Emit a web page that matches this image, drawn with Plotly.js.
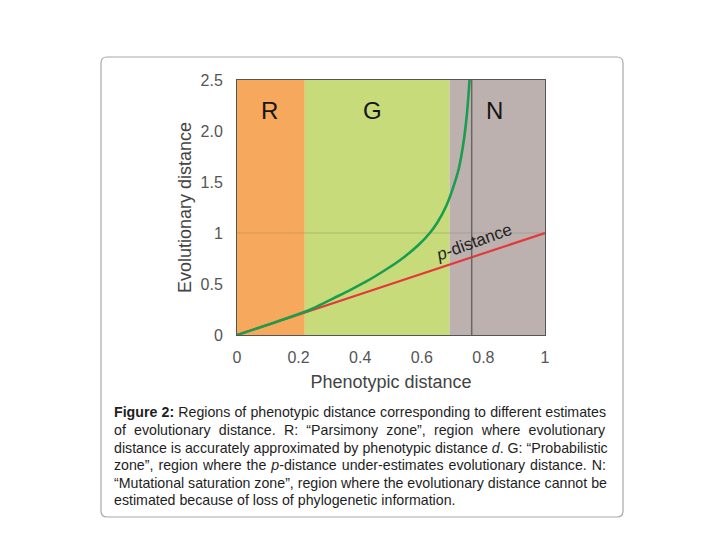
<!DOCTYPE html>
<html>
<head>
<meta charset="utf-8">
<script src="https://cdn.plot.ly/plotly-3.0.1.min.js"></script>
<style>html,body{margin:0;padding:0;background:#fff;}#chart{width:720px;height:540px;}</style>
</head>
<body>
<div id="chart"></div>
<script>
// ---- data ----
const pDistX = [0, 1];
const pDistY = [0, 1];
const evoX = [0, 0.1, 0.2, 0.25, 0.31, 0.37, 0.42, 0.48, 0.53, 0.59, 0.626, 0.65, 0.68, 0.70, 0.72, 0.735, 0.745, 0.751, 0.755];
const evoY = [0, 0.1, 0.205, 0.265, 0.355, 0.445, 0.525, 0.635, 0.735, 0.885, 1.0, 1.10, 1.27, 1.43, 1.63, 1.88, 2.12, 2.33, 2.5];
const zoneNames = ["R", "G", "N"];
const zoneStart = [0, 0.22, 0.69];
const zoneEnd = [0.22, 0.69, 1];
const zoneLabelX = [0.107, 0.44, 0.835];
const saturationX = 0.762;
const xTickVals = [0, 0.2, 0.4, 0.6, 0.8, 1];
const xTickText = ["0", "0.2", "0.4", "0.6", "0.8", "1"];
const yTickVals = [0, 0.5, 1, 1.5, 2, 2.5];
const yTickText = ["0", "0.5", "1", "1.5", "2.0", "2.5"];
const captionLines = [
  "<b>Figure 2:</b> Regions of phenotypic distance corresponding to different estimates",
  "of evolutionary distance. R: “Parsimony zone”, region where evolutionary",
  "distance is accurately approximated by phenotypic distance <i>d</i>. G: “Probabilistic",
  "zone”, region where the <i>p</i>-distance under-estimates evolutionary distance. N:",
  "“Mutational saturation zone”, region where the evolutionary distance cannot be",
  "estimated because of loss of phylogenetic information."
];

// ---- layout helpers (pixel -> paper) ----
const L = 237, R = 545, T = 80, B = 335;
const W = R - L, H = B - T;
const px = X => (X - L) / W;
const py = Y => (B - Y) / H;
const FONT = "Liberation Sans, Arial, sans-serif";

function roundedRect(x0, y0, x1, y1, r) {
  const rx = r / W, ry = r / H;
  const a = px(x0), b = px(x1), top = py(y0), bot = py(y1);
  return `M ${a + rx} ${top} L ${b - rx} ${top} Q ${b} ${top} ${b} ${top - ry} ` +
         `L ${b} ${bot + ry} Q ${b} ${bot} ${b - rx} ${bot} L ${a + rx} ${bot} ` +
         `Q ${a} ${bot} ${a} ${bot + ry} L ${a} ${top - ry} Q ${a} ${top} ${a + rx} ${top} Z`;
}

const zoneColors = ["#F6A85C", "#C8DB7B", "#BDB1AF"];
const shapes = [];
zoneNames.forEach((n, i) => {
  shapes.push({type: "rect", xref: "x", yref: "y", x0: zoneStart[i], x1: zoneEnd[i], y0: 0, y1: 2.5,
    fillcolor: zoneColors[i], line: {width: 0}, layer: "below"});
});
shapes.push({type: "line", xref: "x", yref: "y", x0: 0, x1: 1, y0: 1, y1: 1,
  line: {color: "rgba(140,140,110,0.45)", width: 1}, layer: "below"});
shapes.push({type: "line", xref: "x", yref: "y", x0: saturationX, x1: saturationX, y0: 0, y1: 2.5,
  line: {color: "#6a6464", width: 1.5}});
shapes.push({type: "path", xref: "paper", yref: "paper", path: roundedRect(101, 57, 623, 517, 6),
  line: {color: "#a8a8a8", width: 1.2}, fillcolor: "rgba(0,0,0,0)"});

const annotations = [];
zoneNames.forEach((n, i) => {
  annotations.push({xref: "x", yref: "y", x: zoneLabelX[i], y: 2.2, text: n, showarrow: false,
    font: {family: FONT, size: 24, color: "#151515"}});
});
annotations.push({xref: "x", yref: "y", x: 0.767, y: 0.91, text: "<i>p</i>-distance", showarrow: false,
  textangle: -20, font: {family: FONT, size: 17, color: "#222"}});
const captionStart = annotations.length;
const lineYs = [412, 430, 447.5, 465, 483, 500];
captionLines.forEach((t, i) => {
  annotations.push({xref: "paper", yref: "paper", x: px(112), y: py(lineYs[i]), xanchor: "left", yanchor: "middle",
    text: t, showarrow: false, align: "left",
    font: {family: FONT, size: 14.2, color: "#1e1e1e"}});
});

const traces = [
  {x: pDistX, y: pDistY, type: "scatter", mode: "lines", line: {color: "#E5383B", width: 2.2}, hoverinfo: "skip"},
  {x: evoX, y: evoY, type: "scatter", mode: "lines", line: {color: "#1A9E4E", width: 2.6, shape: "spline", smoothing: 1}, hoverinfo: "skip"}
];

const axisFont = {family: FONT, size: 16, color: "#555"};
const layout = {
  width: 720, height: 540,
  margin: {l: L, r: 720 - R, t: T, b: 540 - B},
  paper_bgcolor: "#fff", plot_bgcolor: "rgba(0,0,0,0)",
  showlegend: false,
  xaxis: {range: [0, 1], tickvals: xTickVals, ticktext: xTickText, showgrid: false, zeroline: false,
    showline: true, linecolor: "#555", linewidth: 1, mirror: true, ticks: "", ticklabelstandoff: 8,
    tickfont: axisFont,
    title: {text: "Phenotypic distance", font: {family: FONT, size: 18, color: "#444"}, standoff: 10}},
  yaxis: {range: [0, 2.5], tickvals: yTickVals, ticktext: yTickText, showgrid: false, zeroline: false,
    showline: true, linecolor: "#555", linewidth: 1, mirror: true, ticks: "", ticklabelstandoff: 10,
    tickfont: axisFont,
    title: {text: "Evolutionary distance", font: {family: FONT, size: 18, color: "#444"}, standoff: 4}},
  shapes: shapes,
  annotations: annotations
};

Plotly.newPlot("chart", traces, layout, {staticPlot: true, displayModeBar: false}).then(() => {
  // justify caption lines (all but the last) to the caption width
  const target = 605 - 113;
  for (let i = 0; i < captionLines.length - 1; i++) {
    const g = document.querySelector(`g.annotation[data-index="${captionStart + i}"] text.annotation-text`);
    if (!g) continue;
    const w = g.getBBox().width;
    const spaces = (g.textContent.match(/ /g) || []).length;
    if (spaces > 0 && w < target) g.style.wordSpacing = ((target - w) / spaces) + "px";
  }
});
</script>
</body>
</html>
